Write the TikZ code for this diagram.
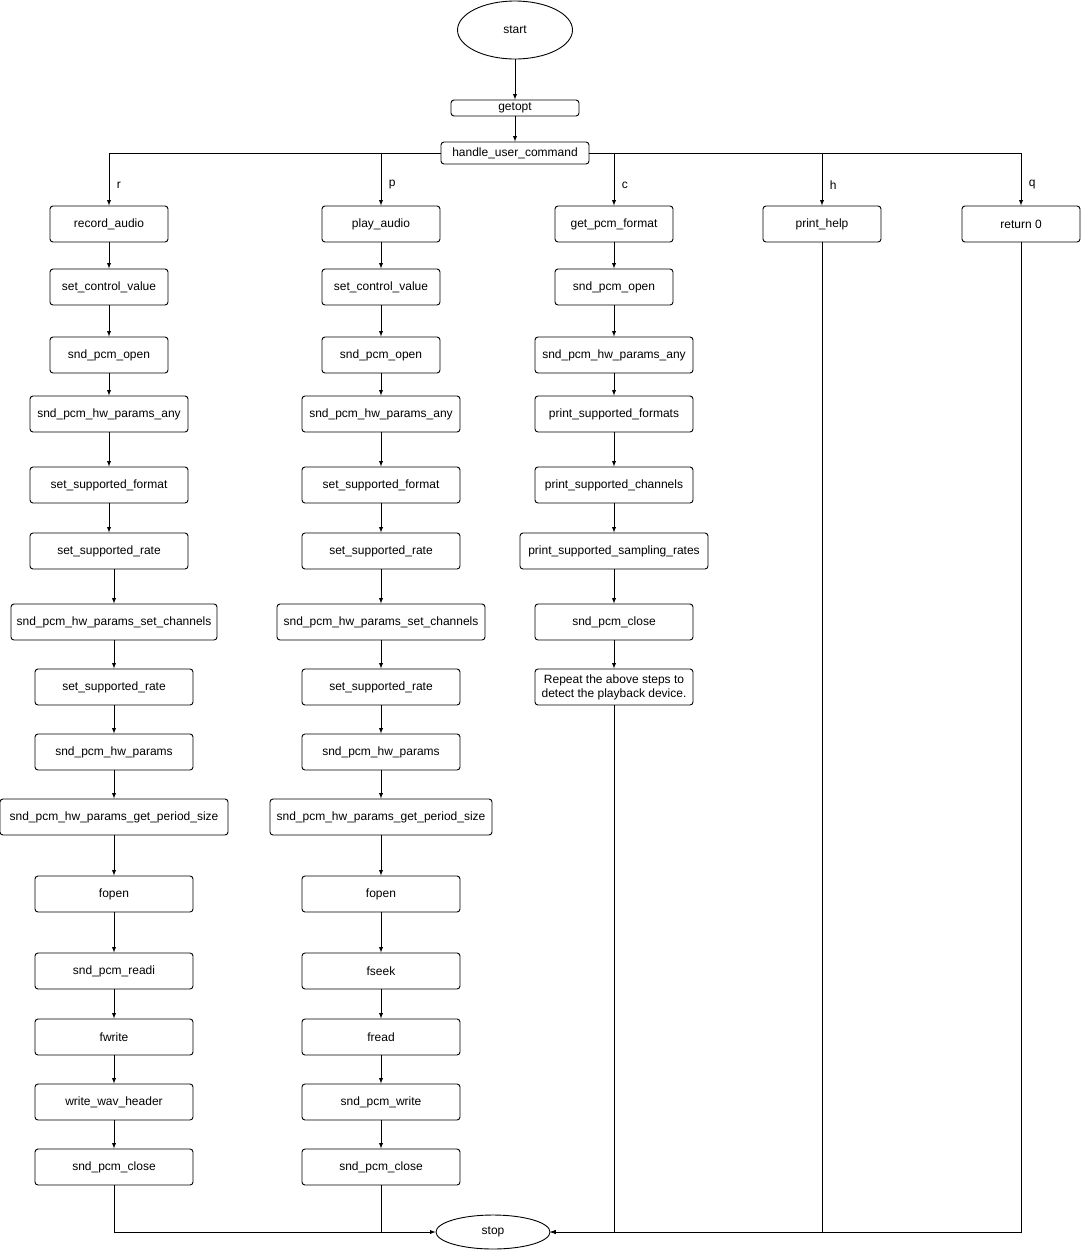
\documentclass[tikz,border=0pt]{standalone}
\usepackage{fontspec}
\setmainfont{Liberation Sans}
\usetikzlibrary{shapes.geometric,arrows,positioning,calc}
\begin{document}
\begin{tikzpicture}[x=1pt, y=-1pt, >=latex, line width=0.9pt,
   box/.style={draw, rectangle, rounded corners=3pt, minimum height=36pt, inner sep=1pt, font=\fontsize{12}{14}\selectfont, align=center},
   term/.style={draw, ellipse, inner sep=0pt, font=\fontsize{12}{14}\selectfont},
   lbl/.style={font=\fontsize{12}{14}\selectfont, anchor=west}]
    \useasboundingbox (0,0) rectangle (1081,1251);

    % top part
    \node [term, minimum width=115pt, minimum height=58pt] (start) at (515,30) {start};
    \node [box, minimum width=128pt, minimum height=16pt] (getopt) at (515,108) {getopt};
    \node [box, minimum width=148pt, minimum height=22pt] (huc) at (515,153) {handle\_user\_command};
    \node [term, minimum width=114pt, minimum height=34pt] (stop) at (493,1232) {stop};
    \draw [->] (start) -- (getopt);
    \draw [->] (getopt) -- (huc);

    % record column
    \foreach \t/\x/\y/\w [count=\i] in {record\_audio/109/224/118, set\_control\_value/109/287/118,
        snd\_pcm\_open/109/355/118, snd\_pcm\_hw\_params\_any/109/414/158,
        set\_supported\_format/109/485/158, set\_supported\_rate/109/551/158,
        snd\_pcm\_hw\_params\_set\_channels/114/622/206, set\_supported\_rate/114/687/158,
        snd\_pcm\_hw\_params/114/752/158, snd\_pcm\_hw\_params\_get\_period\_size/114/817/228,
        fopen/114/894/158, snd\_pcm\_readi/114/971/158, fwrite/114/1037/158,
        write\_wav\_header/114/1102/158, snd\_pcm\_close/114/1167/158}
        \node [box, minimum width=\w pt] (r\i) at (\x,\y) {\t};

    % play column
    \foreach \t/\y/\w [count=\i] in {play\_audio/224/118, set\_control\_value/287/118,
        snd\_pcm\_open/355/118, snd\_pcm\_hw\_params\_any/414/158,
        set\_supported\_format/485/158, set\_supported\_rate/551/158,
        snd\_pcm\_hw\_params\_set\_channels/622/208, set\_supported\_rate/687/158,
        snd\_pcm\_hw\_params/752/158, snd\_pcm\_hw\_params\_get\_period\_size/817/222,
        fopen/894/158, fseek/971/158, fread/1037/158,
        snd\_pcm\_write/1102/158, snd\_pcm\_close/1167/158}
        \node [box, minimum width=\w pt] (p\i) at (381,\y) {\t};

    % format column
    \foreach \t/\y/\w [count=\i] in {get\_pcm\_format/224/118, snd\_pcm\_open/287/118,
        snd\_pcm\_hw\_params\_any/355/158, print\_supported\_formats/414/158,
        print\_supported\_channels/485/158, print\_supported\_sampling\_rates/551/188,
        snd\_pcm\_close/622/158, {Repeat the above steps to\\detect the playback device.}/687/158}
        \node [box, minimum width=\w pt] (c\i) at (614,\y) {\t};

    \node [box, minimum width=118pt] (help) at (822,224) {print\_help};
    \node [box, minimum width=118pt] (ret) at (1021,224) {return 0};

    % chains
    \foreach \i [evaluate=\i as \j using int(\i+1)] in {1,...,14} {
        \draw [->] (r\i.south -| r\j) -- (r\j.north);
        \draw [->] (p\i) -- (p\j);
    }
    \foreach \i [evaluate=\i as \j using int(\i+1)] in {1,...,7}
        \draw [->] (c\i) -- (c\j);

    % branches
    \draw [->] (huc.west) -| (r1.north);
    \draw [->] (huc.west) -| (p1.north);
    \draw [->] (huc.east) -| (c1.north);
    \draw [->] (huc.east) -| (help.north);
    \draw [->] (huc.east) -| (ret.north);
    \foreach \n/\t in {r1/r, p1/p, c1/c, help/h, ret/q}
        \node [lbl] at ($(\n.north |- 0,185)+(4,0)$) {\t};

    % to stop
    \draw [->] (r15.south) |- (stop.west);
    \draw (p15.south) -- (p15.south |- stop.west);
    \draw [->] (c8.south) |- (stop.east);
    \draw [->] (help.south) |- (stop.east);
    \draw [->] (ret.south) |- (stop.east);
\end{tikzpicture}
\end{document}
